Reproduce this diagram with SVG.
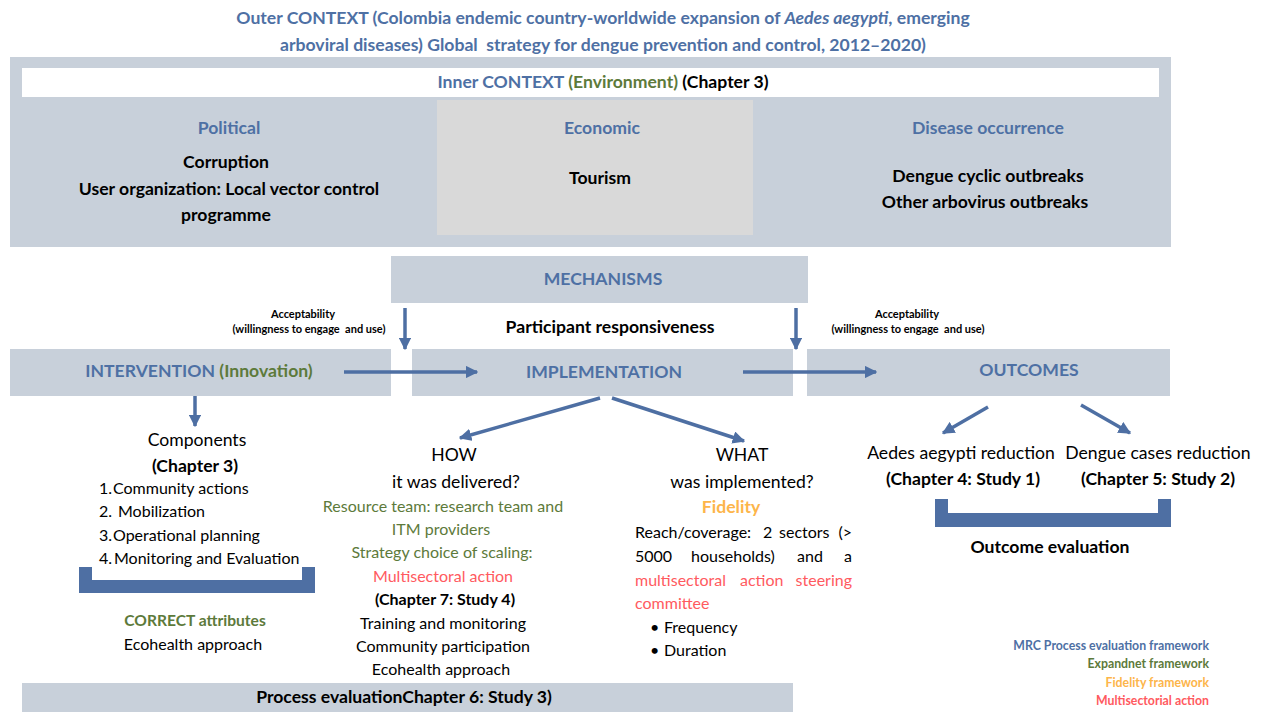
<svg xmlns="http://www.w3.org/2000/svg" width="1265" height="712" viewBox="0 0 1265 712">
<defs>
<style>
text{font-family:Lato,"Open Sans","Liberation Sans",sans-serif;fill:#000}
.blue{fill:#4E70A4}
.green{fill:#5D7A3B}
.orange{fill:#FDB54A}
.red{fill:#FF5A60}
.b{font-weight:bold}
.m{text-anchor:middle}
.e{text-anchor:end}
.t16{font-size:17.6px}
.t15{font-size:16px}
.t10{font-size:11px;white-space:pre}
.t11{font-size:12.3px}
.panel{fill:#C8D0DA}
.arrow{stroke:#4E6FA3;stroke-width:3.5;fill:none}
.brk{fill:#4E6FA3}
</style>
<marker id="ah" viewBox="0 0 10 10" refX="9" refY="5" markerWidth="3.6" markerHeight="3.6" orient="auto" markerUnits="strokeWidth">
<path d="M0,0 L10,5 L0,10 z" fill="#4E6FA3"/>
</marker>
</defs>
<rect width="1265" height="712" fill="#fff"/>

<g id="outer-context">
<text class="blue b t16 m" x="603" y="24">Outer CONTEXT (Colombia endemic country-worldwide expansion of <tspan font-style="italic">Aedes aegypti</tspan>, emerging</text>
<text class="blue b t16 m" x="603" y="51" xml:space="preserve">arboviral diseases) Global  strategy for dengue prevention and control, 2012–2020)</text>
</g>

<g id="inner-context">
<rect class="panel" x="10" y="57" width="1161" height="190"/>
<rect x="22" y="68" width="1137" height="29" fill="#fff"/>
<rect x="437" y="100" width="316" height="135" fill="#D9D9D9"/>
<text class="b t16 m" x="603" y="88"><tspan class="blue">Inner CONTEXT </tspan><tspan class="green">(Environment)</tspan> (Chapter 3)</text>
</g>

<g id="political">
<text class="blue b t16 m" x="229" y="134">Political</text>
<text class="b t16 m" x="226" y="168">Corruption</text>
<text class="b t16 m" x="229" y="195">User organization: Local vector control</text>
<text class="b t16 m" x="226" y="221">programme</text>
</g>
<g id="economic">
<text class="blue b t16 m" x="602" y="134">Economic</text>
<text class="b t16 m" x="600" y="184">Tourism</text>
</g>
<g id="disease">
<text class="blue b t16 m" x="988" y="134">Disease occurrence</text>
<text class="b t16 m" x="988" y="182">Dengue cyclic outbreaks</text>
<text class="b t16 m" x="985" y="208">Other arbovirus outbreaks</text>
</g>

<g id="mechanisms">
<rect class="panel" x="391" y="256" width="417" height="47"/>
<text class="blue b t16 m" x="603" y="285">MECHANISMS</text>
<text class="b t16 m" x="610" y="333">Participant responsiveness</text>
</g>

<g id="acceptability-left">
<text class="b t10 m" x="303" y="318">Acceptability</text>
<text class="b t10 m" x="309" y="333" xml:space="preserve">(willingness to engage  and use)</text>
</g>
<g id="acceptability-right">
<text class="b t10 m" x="907" y="318">Acceptability</text>
<text class="b t10 m" x="908" y="333" xml:space="preserve">(willingness to engage  and use)</text>
</g>

<g id="intervention">
<rect class="panel" x="10" y="349" width="381" height="47"/>
<text class="b t16 m" x="199" y="377"><tspan class="blue">INTERVENTION </tspan><tspan class="green">(Innovation)</tspan></text>
</g>
<g id="implementation">
<rect class="panel" x="412" y="349" width="381" height="47"/>
<text class="blue b t16 m" x="604" y="378">IMPLEMENTATION</text>
</g>
<g id="outcomes">
<rect class="panel" x="807" y="349" width="363" height="47"/>
<text class="blue b t16 m" x="1029" y="376">OUTCOMES</text>
</g>

<g id="connectors">
<line class="arrow" x1="405" y1="308" x2="405" y2="349" marker-end="url(#ah)"/>
<line class="arrow" x1="796" y1="308" x2="796" y2="349" marker-end="url(#ah)"/>
<line class="arrow" x1="344" y1="372" x2="477" y2="372" marker-end="url(#ah)"/>
<line class="arrow" x1="743" y1="372" x2="876" y2="372" marker-end="url(#ah)"/>
<line class="arrow" x1="195" y1="396" x2="195" y2="426" marker-end="url(#ah)"/>
<line class="arrow" x1="600" y1="398" x2="460" y2="438" marker-end="url(#ah)"/>
<line class="arrow" x1="612" y1="398" x2="744" y2="441" marker-end="url(#ah)"/>
<line class="arrow" x1="988" y1="407" x2="943" y2="433" marker-end="url(#ah)"/>
<line class="arrow" x1="1081" y1="405" x2="1130" y2="433" marker-end="url(#ah)"/>
</g>

<g id="components">
<text class="t16 m" x="197" y="446">Components</text>
<text class="b t16 m" x="195" y="472">(Chapter 3)</text>
<text class="t15" x="99" y="494">1.</text><text class="t15" x="113" y="494">Community actions</text>
<text class="t15" x="99" y="517">2.</text><text class="t15" x="118" y="517">Mobilization</text>
<text class="t15" x="99" y="541">3.</text><text class="t15" x="113" y="541">Operational planning</text>
<text class="t15" x="99" y="564">4.</text><text class="t15" x="114" y="564">Monitoring and Evaluation</text>
<path class="brk" d="M79,567 H92 V580 H302 V567 H315 V593 H79 Z"/>
<text class="green b m" font-size="15.6" x="195" y="626">CORRECT attributes</text>
<text class="t15 m" x="193" y="650">Ecohealth approach</text>
</g>

<g id="how">
<text class="t16 m" x="454" y="461">HOW</text>
<text class="t16 m" x="456" y="488">it was delivered?</text>
<text class="green t15 m" x="443" y="512">Resource team: research team and</text>
<text class="green t15 m" x="441" y="535">ITM providers</text>
<text class="green t15 m" x="442" y="558">Strategy choice of scaling:</text>
<text class="red t15 m" x="443" y="582">Multisectoral action</text>
<text class="b t15 m" x="445" y="605">(Chapter 7: Study 4)</text>
<text class="t15 m" x="443" y="629">Training and monitoring</text>
<text class="t15 m" x="443" y="652">Community participation</text>
<text class="t15 m" x="441" y="675">Ecohealth approach</text>
</g>

<g id="process-evaluation">
<rect class="panel" x="22" y="683" width="771" height="29"/>
<text class="b t16 m" x="404" y="703">Process evaluationChapter 6: Study 3)</text>
</g>

<g id="what">
<text class="t16 m" x="742" y="461">WHAT</text>
<text class="t16 m" x="742" y="488">was implemented?</text>
<text class="orange b t16 m" x="731" y="513">Fidelity</text>
<text class="t15" x="635" y="538">Reach/coverage:</text>
<text class="t15" x="763" y="538">2</text>
<text class="t15" x="779" y="538">sectors</text>
<text class="t15 e" x="852" y="538">(&gt;</text>
<text class="t15" x="635" y="562">5000</text>
<text class="t15" x="691" y="562">households)</text>
<text class="t15" x="797" y="562">and</text>
<text class="t15 e" x="852" y="562">a</text>
<text class="red t15" x="635" y="586">multisectoral</text>
<text class="red t15" x="740" y="586">action</text>
<text class="red t15 e" x="852" y="586">steering</text>
<text class="red t15" x="635" y="609">committee</text>
<text class="t15" x="650" y="633">•</text>
<text class="t15" x="664" y="633">Frequency</text>
<text class="t15" x="650" y="656">•</text>
<text class="t15" x="664" y="656">Duration</text>
</g>

<g id="outcome-aedes">
<text class="t16 m" x="961" y="459">Aedes aegypti reduction</text>
<text class="b t16 m" x="963" y="485">(Chapter 4: Study 1)</text>
</g>
<g id="outcome-dengue">
<text class="t16 m" x="1158" y="459">Dengue cases reduction</text>
<text class="b t16 m" x="1158" y="485">(Chapter 5: Study 2)</text>
</g>
<g id="outcome-evaluation">
<path class="brk" d="M935,499 H948 V513 H1158 V499 H1171 V527 H935 Z"/>
<text class="b t16 m" x="1050" y="553">Outcome evaluation</text>
</g>

<g id="legend">
<text class="blue b t11 e" x="1209" y="650">MRC Process evaluation framework</text>
<text class="green b t11 e" x="1209" y="668">Expandnet framework</text>
<text class="orange b t11 e" x="1209" y="687">Fidelity framework</text>
<text class="red b t11 e" x="1209" y="705">Multisectorial action</text>
</g>
</svg>
